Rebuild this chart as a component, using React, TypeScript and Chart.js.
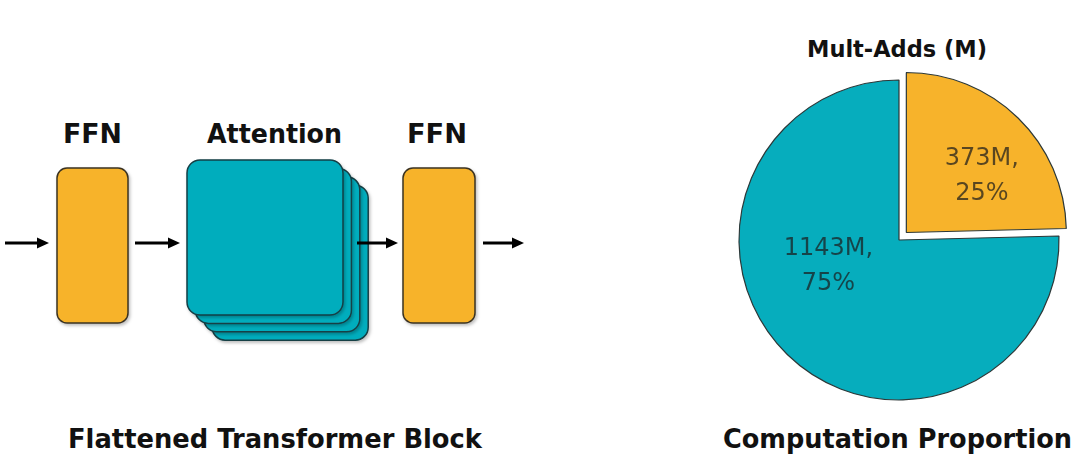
import React, { useEffect, useRef } from "react";
import { Chart, registerables } from "chart.js";

Chart.register(...registerables);

// ---- data ----
const sliceNames = ["FFN", "Attention"];
const multAdds = [373, 1143];
const sliceColors = ["#f7b32b", "#06adbd"];
const sliceOffsets = [42, 0];
const labelAngleFrac = [0.6, 0.594];
const labelRadiusFrac = [0.59, 0.47];
const blockLabels = ["FFN", "Attention", "FFN"];
const pieTitle = "Mult-Adds (M)";
const leftCaption = "Flattened Transformer Block";
const rightCaption = "Computation Proportion";

const FONT = '"DejaVu Sans", sans-serif';

const sliceLabelPlugin = {
  id: "sliceLabels",
  afterDatasetsDraw(chart: any) {
    const ctx = chart.ctx;
    const meta = chart.getDatasetMeta(0);
    const data = chart.data.datasets[0].data as number[];
    const total = data.reduce((a, b) => a + b, 0);
    meta.data.forEach((arc: any, i: number) => {
      const { x, y, startAngle, endAngle, outerRadius, circumference } = arc.getProps(
        ["x", "y", "startAngle", "endAngle", "outerRadius", "circumference"],
        true
      );
      const off = (arc.options.offset || 0) / 4;
      const fix = 1 - Math.sin(Math.min(Math.PI, circumference || 0));
      const shift = off + off * fix;
      const mid = (startAngle + endAngle) / 2;
      const cx = x + Math.cos(mid) * shift;
      const cy = y + Math.sin(mid) * shift;
      const a = startAngle + (endAngle - startAngle) * labelAngleFrac[i];
      const r = outerRadius * labelRadiusFrac[i];
      const lx = cx + Math.cos(a) * r;
      const ly = cy + Math.sin(a) * r;
      ctx.save();
      ctx.font = `24px ${FONT}`;
      ctx.fillStyle = "rgba(28,28,28,0.72)";
      ctx.textAlign = "center";
      ctx.textBaseline = "middle";
      ctx.fillText(`${data[i]}M,`, lx, ly - 17.5);
      ctx.fillText(`${Math.round((data[i] / total) * 100)}%`, lx, ly + 17.5);
      ctx.restore();
    });
  },
};

function Arrow({ x1, x2, y }: { x1: number; x2: number; y: number }) {
  return (
    <g>
      <line x1={x1} y1={y} x2={x2 - 9} y2={y} stroke="#000" strokeWidth={3} />
      <polygon points={`${x2},${y} ${x2 - 12},${y - 5.5} ${x2 - 12},${y + 5.5}`} fill="#000" />
    </g>
  );
}

function Label({ text, x, y, w, size }: { text: string; x: number; y: number; w: number; size: number }) {
  return (
    <text
      x={x}
      y={y}
      textLength={w}
      lengthAdjust="spacingAndGlyphs"
      fontFamily={FONT}
      fontWeight="bold"
      fontSize={size}
      fill="#111"
    >
      {text}
    </text>
  );
}

export default function App() {
  const canvasRef = useRef<HTMLCanvasElement | null>(null);

  useEffect(() => {
    const canvas = canvasRef.current;
    if (!canvas) return;
    const chart = new Chart(canvas, {
      type: "pie",
      data: {
        labels: sliceNames,
        datasets: [
          {
            data: multAdds,
            backgroundColor: sliceColors,
            borderColor: "#2c3838",
            borderWidth: 1.2,
            offset: sliceOffsets,
          },
        ],
      },
      options: {
        responsive: false,
        animation: false,
        devicePixelRatio: 1,
        radius: 160,
        layout: { padding: { left: 0, right: 2, top: 80, bottom: 56 } },
        plugins: {
          legend: { display: false },
          tooltip: { enabled: false },
          title: { display: false },
        },
      } as any,
      plugins: [sliceLabelPlugin],
    });
    return () => chart.destroy();
  }, []);

  const stackOffsets = [3, 2, 1, 0];
  const step = 8.4;

  return (
    <div style={{ position: "fixed", left: 0, top: 0, width: 1080, height: 456, background: "#fff" }}>
      <svg width={1080} height={456} style={{ position: "absolute", left: 0, top: 0 }}>
        <defs>
          <filter id="sh" x="-10%" y="-10%" width="130%" height="130%">
            <feDropShadow dx="1.5" dy="2" stdDeviation="1.5" floodColor="#000" floodOpacity="0.25" />
          </filter>
        </defs>
        <Label text={blockLabels[0]} x={63} y={143} w={59} size={27} />
        <Label text={blockLabels[1]} x={207} y={143} w={135} size={27} />
        <Label text={blockLabels[2]} x={407} y={143} w={60} size={27} />

        <Arrow x1={5} x2={49} y={243} />
        <rect x={57} y={168} width={71} height={155} rx={10} fill="#f7b32b" stroke="#3b3320" strokeWidth={1.5} filter="url(#sh)" />
        <Arrow x1={135} x2={180} y={243} />
        {stackOffsets.map((k) => (
          <rect
            key={k}
            x={187 + k * step}
            y={160 + k * step}
            width={156}
            height={155}
            rx={13}
            fill="#06adbd"
            stroke="#143f45"
            strokeWidth={1.5}
            filter="url(#sh)"
          />
        ))}
        <Arrow x1={357} x2={398} y={243} />
        <rect x={403} y={168} width={72} height={155} rx={10} fill="#f7b32b" stroke="#3b3320" strokeWidth={1.5} filter="url(#sh)" />
        <Arrow x1={483} x2={524} y={243} />

        <Label text={leftCaption} x={68} y={448} w={414} size={27} />
        <Label text={pieTitle} x={807} y={57} w={180} size={23} />
        <Label text={rightCaption} x={723} y={448} w={349} size={27} />
      </svg>
      <canvas
        ref={canvasRef}
        width={360}
        height={456}
        style={{ position: "absolute", left: 720, top: 0, width: 360, height: 456 }}
      />
    </div>
  );
}
